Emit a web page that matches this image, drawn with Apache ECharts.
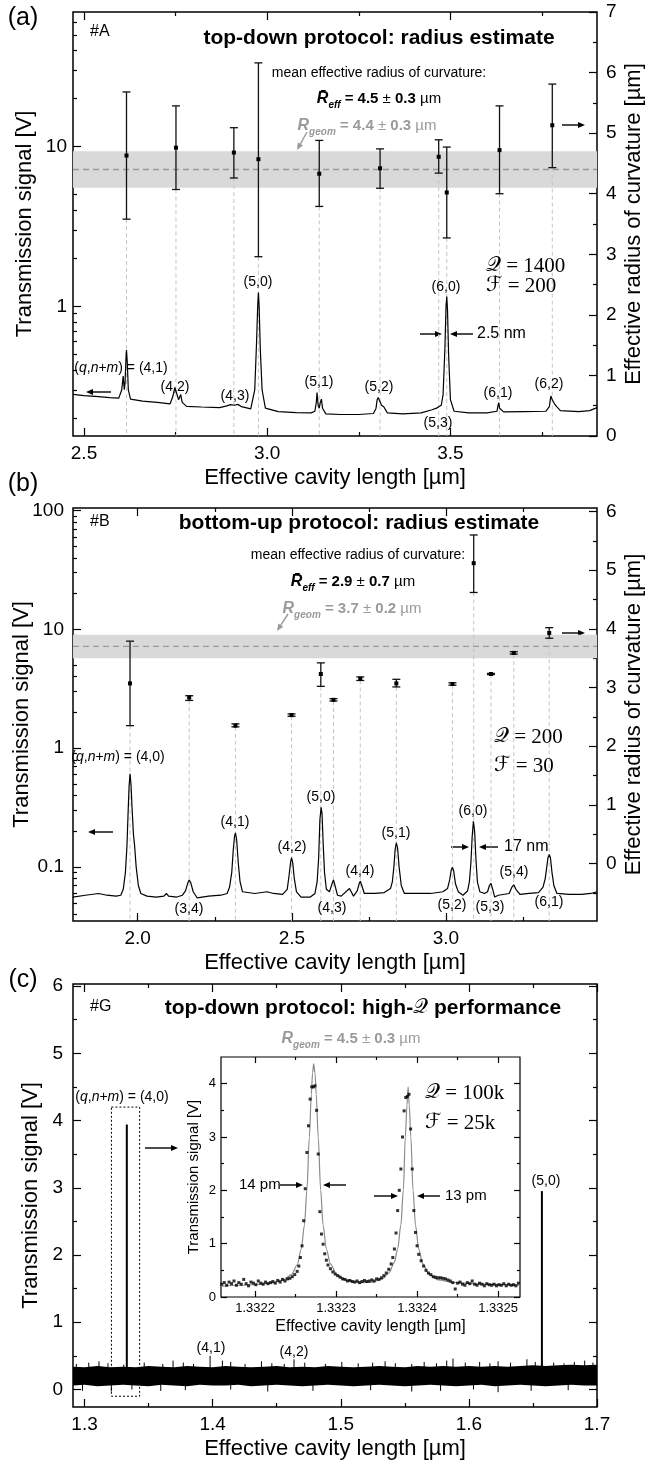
<!DOCTYPE html>
<html>
<head>
<meta charset="utf-8">
<script src="https://cdn.jsdelivr.net/npm/echarts@6/dist/echarts.min.js"></script>
<style>
html, body { margin: 0; padding: 0; background: #fff; }
#chart { width: 646px; height: 1468px; }
</style>
</head>
<body>
<div id="chart"></div>
<script>
var NARROW = "'Liberation Sans Narrow','Arial Narrow','Liberation Sans',Arial,sans-serif";
var SERIF = "'Liberation Serif','DejaVu Serif',serif";
var MATH = "'DejaVu Serif','DejaVu Sans','Liberation Serif',serif";
var GRAY = '#9a9a9a';

/* ---------- (a) top-down protocol ---------- */
var specA = [
    [2.47, 0.281], [2.50, 0.276], [2.54, 0.272], [2.57, 0.268], [2.595, 0.266],
    [2.603, 0.30], [2.607, 0.366], [2.610, 0.30], [2.612, 0.33], [2.615, 0.50], [2.616, 0.532], [2.618, 0.45], [2.621, 0.30], [2.627, 0.262],
    [2.66, 0.255], [2.70, 0.25], [2.735, 0.245],
    [2.742, 0.27], [2.748, 0.31], [2.752, 0.29], [2.758, 0.26], [2.764, 0.28], [2.768, 0.25], [2.78, 0.236],
    [2.82, 0.234], [2.87, 0.232],
    [2.89, 0.238], [2.90, 0.242], [2.91, 0.24], [2.92, 0.243], [2.93, 0.235], [2.955, 0.228],
    [2.966, 0.30], [2.971, 0.60], [2.974, 1.0], [2.976, 1.22], [2.978, 1.0], [2.981, 0.55], [2.986, 0.30], [2.995, 0.23],
    [3.03, 0.219], [3.08, 0.216], [3.12, 0.215],
    [3.130, 0.22], [3.134, 0.25], [3.136, 0.288], [3.139, 0.24], [3.142, 0.23], [3.145, 0.25], [3.148, 0.262], [3.151, 0.23], [3.16, 0.212],
    [3.20, 0.21], [3.25, 0.21], [3.29, 0.213],
    [3.297, 0.23], [3.300, 0.26], [3.303, 0.268], [3.307, 0.255], [3.312, 0.24], [3.318, 0.235], [3.328, 0.215],
    [3.37, 0.212], [3.42, 0.215], [3.45, 0.225],
    [3.462, 0.23], [3.468, 0.235], [3.475, 0.24],
    [3.480, 0.28], [3.485, 0.55], [3.488, 1.0], [3.490, 1.15], [3.492, 0.95], [3.495, 0.5], [3.50, 0.26], [3.51, 0.22],
    [3.55, 0.215], [3.60, 0.215],
    [3.627, 0.22], [3.630, 0.24], [3.632, 0.249], [3.634, 0.23], [3.636, 0.235], [3.638, 0.225], [3.645, 0.218],
    [3.70, 0.219], [3.76, 0.22],
    [3.770, 0.235], [3.774, 0.274], [3.778, 0.26], [3.784, 0.245], [3.79, 0.235], [3.80, 0.222],
    [3.85, 0.219], [3.88, 0.222], [3.90, 0.232]
];
// [cavity length, radius, lower, upper]
var errA = [
    [2.616, 4.63, 3.58, 5.68], [2.751, 4.76, 4.07, 5.45], [2.909, 4.68, 4.26, 5.09],
    [2.976, 4.57, 2.96, 6.16], [3.142, 4.33, 3.79, 4.88], [3.308, 4.42, 4.09, 4.74],
    [3.468, 4.61, 4.34, 4.89], [3.490, 4.02, 3.27, 4.77], [3.634, 4.72, 4.00, 5.45],
    [3.778, 5.13, 4.43, 5.81]
];
var bandA = [4.1, 4.7];
var meanA = 4.4;
var xRangeA = [2.47, 3.90];
var xTicksA = [2.5, 3.0, 3.5];
var xLabelsA = ['2.5', '3.0', '3.5'];
var xMinorA = [2.75, 3.25, 3.75];
var yRangeA = [0.154, 69.7];
var yTicksA = [1, 10];
var yLabelsA = ['1', '10'];
var yMinorA = [0.2, 0.3, 0.4, 0.5, 0.6, 0.7, 0.8, 0.9, 2, 3, 4, 5, 6, 7, 8, 9, 20, 30, 40, 50, 60];
var rRangeA = [0, 7];
var rTicksA = [0, 1, 2, 3, 4, 5, 6, 7];
var rLabelsA = ['0', '1', '2', '3', '4', '5', '6', '7'];
var rMinorA = [0.5, 1.5, 2.5, 3.5, 4.5, 5.5, 6.5];

/* ---------- (b) bottom-up protocol ---------- */
var specB = [
    [1.79, 0.056], [1.83, 0.058], [1.873, 0.060], [1.90, 0.058], [1.93, 0.057], [1.945, 0.058],
    [1.953, 0.065], [1.960, 0.09], [1.965, 0.15], [1.969, 0.30], [1.972, 0.48], [1.975, 0.61], [1.978, 0.50], [1.982, 0.30], [1.986, 0.19], [1.990, 0.15], [1.995, 0.10], [2.002, 0.07], [2.010, 0.06],
    [2.03, 0.057], [2.06, 0.056], [2.085, 0.057], [2.093, 0.06], [2.10, 0.057], [2.127, 0.056], [2.145, 0.058],
    [2.155, 0.063], [2.162, 0.073], [2.167, 0.078], [2.172, 0.074], [2.18, 0.062], [2.193, 0.055],
    [2.23, 0.057], [2.27, 0.058], [2.29, 0.06],
    [2.298, 0.068], [2.305, 0.09], [2.310, 0.14], [2.314, 0.18], [2.317, 0.194], [2.321, 0.17], [2.326, 0.11], [2.332, 0.075], [2.34, 0.062],
    [2.38, 0.06], [2.42, 0.062], [2.44, 0.06], [2.47, 0.059],
    [2.485, 0.065], [2.491, 0.085], [2.496, 0.11], [2.499, 0.12], [2.503, 0.108], [2.508, 0.08], [2.515, 0.062],
    [2.53, 0.056], [2.56, 0.056], [2.575, 0.06],
    [2.582, 0.075], [2.587, 0.12], [2.591, 0.25], [2.595, 0.318], [2.598, 0.28], [2.602, 0.15], [2.606, 0.09], [2.612, 0.065],
    [2.622, 0.062], [2.630, 0.072], [2.635, 0.078], [2.640, 0.07], [2.648, 0.058],
    [2.66, 0.057], [2.687, 0.066], [2.70, 0.057],
    [2.712, 0.063], [2.718, 0.072], [2.722, 0.076], [2.727, 0.07], [2.735, 0.06],
    [2.77, 0.06], [2.80, 0.061], [2.82, 0.066],
    [2.826, 0.075], [2.831, 0.10], [2.835, 0.14], [2.839, 0.16], [2.843, 0.145], [2.848, 0.10], [2.855, 0.07], [2.865, 0.06],
    [2.90, 0.06], [2.95, 0.06], [2.99, 0.062], [3.005, 0.066],
    [3.012, 0.078], [3.017, 0.094], [3.021, 0.10], [3.025, 0.093], [3.031, 0.072], [3.04, 0.062], [3.055, 0.058], [3.07, 0.063],
    [3.076, 0.075], [3.081, 0.11], [3.085, 0.18], [3.089, 0.243], [3.093, 0.20], [3.097, 0.12], [3.102, 0.075], [3.11, 0.062], [3.125, 0.06],
    [3.135, 0.062], [3.141, 0.07], [3.146, 0.073], [3.151, 0.066], [3.158, 0.056], [3.17, 0.058],
    [3.205, 0.06], [3.214, 0.068], [3.22, 0.071], [3.227, 0.065], [3.24, 0.059],
    [3.27, 0.06], [3.30, 0.061], [3.315, 0.068],
    [3.322, 0.08], [3.327, 0.10], [3.331, 0.12], [3.335, 0.128], [3.339, 0.12], [3.344, 0.09], [3.35, 0.07], [3.36, 0.06],
    [3.40, 0.059], [3.44, 0.059], [3.47, 0.06], [3.49, 0.062]
];
var errB = [
    [1.975, 3.07, 2.35, 3.79], [2.167, 2.83, 2.78, 2.86], [2.317, 2.35, 2.33, 2.38],
    [2.499, 2.53, 2.51, 2.55], [2.594, 3.23, 3.02, 3.42], [2.635, 2.79, 2.77, 2.81],
    [2.722, 3.15, 3.12, 3.18], [2.839, 3.07, 3.01, 3.14], [3.021, 3.06, 3.04, 3.08],
    [3.090, 5.12, 4.62, 5.60], [3.146, 3.23, 3.22, 3.24], [3.220, 3.59, 3.57, 3.61],
    [3.335, 3.93, 3.84, 4.02]
];
var bandB = [3.5, 3.9];
var meanB = 3.7;
var xRangeB = [1.79, 3.49];
var xTicksB = [2.0, 2.5, 3.0];
var xLabelsB = ['2.0', '2.5', '3.0'];
var xMinorB = [2.25, 2.75, 3.25];
var yRangeB = [0.0352, 105];
var yTicksB = [0.1, 1, 10, 100];
var yLabelsB = ['0.1', '1', '10', '100'];
var yMinorB = [0.04, 0.05, 0.06, 0.07, 0.08, 0.09, 0.2, 0.3, 0.4, 0.5, 0.6, 0.7, 0.8, 0.9,
    2, 3, 4, 5, 6, 7, 8, 9, 20, 30, 40, 50, 60, 70, 80, 90];
var rRangeB = [-0.98, 6.06];
var rTicksB = [0, 1, 2, 3, 4, 5, 6];
var rLabelsB = ['0', '1', '2', '3', '4', '5', '6'];
var rMinorB = [-0.5, 0.5, 1.5, 2.5, 3.5, 4.5, 5.5];

/* ---------- (c) high-Q performance ---------- */
var noiseTopC = [
    [1.291, 0.34], [1.30, 0.33], [1.31, 0.35], [1.32, 0.33], [1.33, 0.34], [1.34, 0.33], [1.35, 0.35],
    [1.36, 0.34], [1.37, 0.33], [1.38, 0.35], [1.39, 0.34], [1.40, 0.33], [1.41, 0.35], [1.42, 0.34],
    [1.43, 0.33], [1.44, 0.34], [1.45, 0.35], [1.46, 0.33], [1.47, 0.34], [1.48, 0.33], [1.49, 0.35],
    [1.50, 0.34], [1.51, 0.33], [1.52, 0.34], [1.53, 0.35], [1.54, 0.34], [1.55, 0.33], [1.56, 0.35],
    [1.57, 0.34], [1.58, 0.35], [1.59, 0.34], [1.60, 0.35], [1.61, 0.34], [1.62, 0.35], [1.63, 0.34],
    [1.64, 0.35], [1.65, 0.36], [1.66, 0.35], [1.67, 0.36], [1.68, 0.37], [1.69, 0.36], [1.70, 0.37]
];
var noiseBotC = [
    [1.291, 0.06], [1.30, 0.07], [1.31, 0.05], [1.32, 0.06], [1.33, 0.07], [1.34, 0.06], [1.35, 0.05],
    [1.36, 0.07], [1.37, 0.06], [1.38, 0.05], [1.39, 0.07], [1.40, 0.06], [1.41, 0.06], [1.42, 0.07],
    [1.43, 0.05], [1.44, 0.06], [1.45, 0.07], [1.46, 0.06], [1.47, 0.05], [1.48, 0.06], [1.49, 0.07],
    [1.50, 0.06], [1.51, 0.05], [1.52, 0.06], [1.53, 0.07], [1.54, 0.06], [1.55, 0.05], [1.56, 0.06],
    [1.57, 0.07], [1.58, 0.06], [1.59, 0.05], [1.60, 0.06], [1.61, 0.07], [1.62, 0.05], [1.63, 0.06],
    [1.64, 0.07], [1.65, 0.06], [1.66, 0.05], [1.67, 0.06], [1.68, 0.07], [1.69, 0.06], [1.70, 0.06]
];
var spikesUpC = [
    [1.2936, 0.38], [1.3033, 0.40], [1.3113, 0.42], [1.3183, 0.39], [1.3306, 0.37], [1.3466, 0.40],
    [1.3611, 0.38], [1.3691, 0.43], [1.3771, 0.40], [1.3851, 0.38], [1.3980, 0.50], [1.4076, 0.43],
    [1.4141, 0.41], [1.4253, 0.38], [1.4381, 0.42], [1.4462, 0.39], [1.4559, 0.38], [1.4635, 0.45],
    [1.4719, 0.40], [1.4880, 0.38], [1.5008, 0.41], [1.5136, 0.39], [1.5249, 0.40], [1.5346, 0.42],
    [1.5426, 0.39], [1.5554, 0.38], [1.5651, 0.41], [1.5747, 0.39], [1.5827, 0.43], [1.5876, 0.46],
    [1.5972, 0.40], [1.6084, 0.41], [1.6164, 0.39], [1.6228, 0.42], [1.6325, 0.40], [1.6453, 0.45],
    [1.6518, 0.41], [1.6662, 0.40], [1.6743, 0.39], [1.6823, 0.41], [1.6904, 0.43], [1.6968, 0.40]
];
var spikesDownC = [
    [1.2984, -0.02], [1.3209, -0.03], [1.3370, 0.0], [1.3595, -0.02], [1.3787, -0.01], [1.4141, 0.0],
    [1.4430, -0.03], [1.4783, -0.02], [1.5233, -0.01], [1.5554, -0.03], [1.5779, -0.02], [1.6036, 0.0],
    [1.6228, -0.04], [1.6486, -0.02], [1.6775, -0.01]
];
var peaksC = [[1.333, 3.94], [1.657, 2.95]];
var boxC = [1.321, -0.1, 1.343, 4.2];
var noiseMidC = 0.2;
var xRangeC = [1.291, 1.70];
var xTicksC = [1.3, 1.4, 1.5, 1.6, 1.7];
var xLabelsC = ['1.3', '1.4', '1.5', '1.6', '1.7'];
var xMinorC = [1.35, 1.45, 1.55, 1.65];
var yRangeC = [-0.26, 6.03];
var yTicksC = [0, 1, 2, 3, 4, 5, 6];
var yLabelsC = ['0', '1', '2', '3', '4', '5', '6'];
var yMinorC = [0.5, 1.5, 2.5, 3.5, 4.5, 5.5];

/* ---------- (c) inset ---------- */
var dotsI = [
    [1.332159, 0.24], [1.332162, 0.27], [1.332165, 0.22], [1.332168, 0.28], [1.332171, 0.25], [1.332174, 0.30],
    [1.332177, 0.22], [1.332180, 0.27], [1.332183, 0.24], [1.332186, 0.33], [1.332189, 0.25], [1.332192, 0.21],
    [1.332195, 0.28], [1.332198, 0.26], [1.332201, 0.23], [1.332204, 0.30], [1.332207, 0.26], [1.332210, 0.24],
    [1.332213, 0.28], [1.332216, 0.25], [1.332219, 0.27], [1.332222, 0.29], [1.332225, 0.26], [1.332228, 0.31],
    [1.332231, 0.28], [1.332234, 0.33], [1.332237, 0.30], [1.332240, 0.34], [1.332243, 0.35], [1.332246, 0.38],
    [1.332249, 0.42], [1.332252, 0.48], [1.332254, 0.58], [1.332256, 0.74], [1.332258, 0.96], [1.332260, 1.43],
    [1.332262, 2.03], [1.332264, 2.71], [1.332266, 3.21], [1.332268, 3.71], [1.332270, 3.94], [1.332272, 3.94],
    [1.332274, 3.96], [1.332276, 3.50], [1.332278, 2.68], [1.332280, 1.60], [1.332282, 1.18], [1.332284, 0.99],
    [1.332286, 0.81], [1.332288, 0.69], [1.332290, 0.60], [1.332293, 0.53], [1.332296, 0.47], [1.332299, 0.43],
    [1.332302, 0.40], [1.332305, 0.37], [1.332308, 0.34], [1.332311, 0.33], [1.332314, 0.30], [1.332317, 0.31],
    [1.332320, 0.29], [1.332323, 0.28], [1.332326, 0.30], [1.332329, 0.27], [1.332332, 0.29], [1.332335, 0.31],
    [1.332338, 0.29], [1.332341, 0.30], [1.332344, 0.32], [1.332347, 0.30], [1.332350, 0.34], [1.332353, 0.33],
    [1.332356, 0.36], [1.332359, 0.40], [1.332362, 0.45], [1.332365, 0.52], [1.332368, 0.62], [1.332370, 0.74],
    [1.332372, 0.90], [1.332374, 1.20], [1.332376, 1.62], [1.332378, 2.00], [1.332380, 2.40], [1.332382, 3.00],
    [1.332384, 3.49], [1.332386, 3.74], [1.332388, 3.76], [1.332390, 3.80], [1.332392, 3.15], [1.332394, 2.40],
    [1.332396, 1.62], [1.332398, 1.21], [1.332400, 0.96], [1.332402, 0.80], [1.332405, 0.68], [1.332408, 0.58],
    [1.332411, 0.50], [1.332414, 0.45], [1.332417, 0.42], [1.332420, 0.38], [1.332423, 0.37], [1.332426, 0.36],
    [1.332429, 0.36], [1.332432, 0.35], [1.332435, 0.34], [1.332438, 0.32], [1.332441, 0.30], [1.332444, 0.27],
    [1.332447, 0.15], [1.332450, 0.26], [1.332453, 0.28], [1.332456, 0.24], [1.332459, 0.22], [1.332462, 0.27],
    [1.332465, 0.25], [1.332468, 0.30], [1.332471, 0.24], [1.332474, 0.22], [1.332477, 0.26], [1.332480, 0.24],
    [1.332483, 0.21], [1.332486, 0.25], [1.332489, 0.23], [1.332492, 0.22], [1.332495, 0.24], [1.332498, 0.21],
    [1.332501, 0.23], [1.332504, 0.22], [1.332507, 0.25], [1.332510, 0.21], [1.332513, 0.24], [1.332516, 0.22],
    [1.332519, 0.23], [1.332522, 0.21], [1.332525, 0.26]
];
var fitI = [
    [1.332158, 0.20], [1.332180, 0.22], [1.332200, 0.23], [1.332220, 0.26], [1.332235, 0.32], [1.332245, 0.42],
    [1.332252, 0.60], [1.332257, 0.90], [1.332261, 1.35], [1.332264, 2.00], [1.332267, 3.00], [1.3322695, 3.80],
    [1.332271, 4.20], [1.3322724, 4.37], [1.332274, 4.20], [1.3322755, 3.80], [1.332278, 3.00], [1.332281, 2.00],
    [1.332284, 1.35], [1.332288, 0.90], [1.332293, 0.62], [1.332301, 0.42], [1.332312, 0.32], [1.332328, 0.27],
    [1.332345, 0.28], [1.332357, 0.34], [1.332365, 0.45], [1.332372, 0.65], [1.332376, 0.90], [1.332380, 1.35],
    [1.332383, 2.00], [1.3323855, 3.00], [1.3323875, 3.60], [1.3323889, 3.94], [1.3323903, 3.60], [1.3323923, 3.00],
    [1.332395, 2.00], [1.332398, 1.35], [1.332402, 0.90], [1.332407, 0.62], [1.332415, 0.42], [1.332426, 0.32],
    [1.332445, 0.27], [1.332480, 0.24], [1.332527, 0.22]
];
var xRangeI = [1.332158, 1.332527];
var xTicksI = [1.3322, 1.3323, 1.3324, 1.3325];
var xLabelsI = ['1.3322', '1.3323', '1.3324', '1.3325'];
var xMinorI = [1.33225, 1.33235, 1.33245];
var yRangeI = [0, 4.5];
var yTicksI = [0, 1, 2, 3, 4];
var yLabelsI = ['0', '1', '2', '3', '4'];
var yMinorI = [0.5, 1.5, 2.5, 3.5];

/* ---------- axes ---------- */
var xAxes = [];
var yAxes = [];

function labelFmt(values, labels) {
    return function (v) {
        for (var i = 0; i < values.length; i++) {
            if (Math.abs(values[i] - v) <= 1e-9 * Math.max(1, Math.abs(v))) return labels[i];
        }
        return '';
    };
}

function mk(grid, pos, type, range, tickVals, len, lab, nm) {
    var a = {
        gridIndex: grid, type: type, position: pos, min: range[0], max: range[1],
        axisLine: {show: false, onZero: false},
        splitLine: {show: false},
        axisTick: {show: true, inside: true, length: len, customValues: tickVals, lineStyle: {color: '#000', width: 1.2}},
        axisLabel: {show: false}
    };
    if (type === 'log') a.logBase = 10;
    if (lab) {
        a.axisLabel = {
            show: true, customValues: lab.values, formatter: labelFmt(lab.values, lab.labels),
            color: '#000', fontFamily: NARROW, fontSize: lab.size, margin: lab.margin
        };
    }
    if (nm && nm.text) {
        a.name = nm.text;
        a.nameLocation = 'middle';
        a.nameGap = nm.gap;
        a.nameRotate = nm.rotate;
        a.nameMoveOverlap = false;
        a.nameTextStyle = {color: '#000', fontFamily: NARROW, fontSize: nm.size};
    }
    return a;
}

/**
 * 四边框刻度：下(标签) / 上 / 左(标签) / 右
 */
function addFrame(grid, f) {
    var tl = f.tl, ts = f.ts;
    var ix = xAxes.length;
    xAxes.push(mk(grid, 'bottom', 'value', f.x.range, f.x.ticks, tl,
        {values: f.x.ticks, labels: f.x.labels, size: f.fs, margin: f.xm},
        {text: f.x.name, gap: f.x.gap, size: f.ns, rotate: 0}));
    xAxes.push(mk(grid, 'bottom', 'value', f.x.range, f.x.minor, ts));
    xAxes.push(mk(grid, 'top', 'value', f.x.range, f.x.ticks, tl));
    xAxes.push(mk(grid, 'top', 'value', f.x.range, f.x.minor, ts));
    var il = yAxes.length;
    yAxes.push(mk(grid, 'left', f.l.type, f.l.range, f.l.ticks, tl,
        {values: f.l.ticks, labels: f.l.labels, size: f.fs, margin: f.ym},
        {text: f.l.name, gap: f.l.gap, size: f.nsy || f.ns, rotate: 90}));
    yAxes.push(mk(grid, 'left', f.l.type, f.l.range, f.l.minor, ts));
    var r = f.r || f.l;
    var ir = yAxes.length;
    yAxes.push(mk(grid, 'right', r.type, r.range, r.ticks, tl,
        f.r ? {values: r.ticks, labels: r.labels, size: f.fs, margin: f.rm} : null,
        f.r ? {text: r.name, gap: r.gap, size: f.ns, rotate: 90} : null));
    yAxes.push(mk(grid, 'right', r.type, r.range, r.minor, ts));
    return {x: ix, l: il, r: ir};
}

var XNAME = 'Effective cavity length [µm]';
var YNAME = 'Transmission signal [V]';
var RNAME = 'Effective radius of curvature [µm]';

var A = addFrame(0, {
    tl: 8, ts: 4, fs: 19, ns: 22, xm: 8, ym: 6, rm: 9,
    x: {range: xRangeA, ticks: xTicksA, labels: xLabelsA, minor: xMinorA, name: XNAME, gap: 31},
    l: {type: 'log', range: yRangeA, ticks: yTicksA, labels: yLabelsA, minor: yMinorA, name: YNAME, gap: 37},
    r: {type: 'value', range: rRangeA, ticks: rTicksA, labels: rLabelsA, minor: rMinorA, name: RNAME, gap: 26}
});
var B = addFrame(1, {
    tl: 8, ts: 4, fs: 19, ns: 22, xm: 8, ym: 9, rm: 9,
    x: {range: xRangeB, ticks: xTicksB, labels: xLabelsB, minor: xMinorB, name: XNAME, gap: 31},
    l: {type: 'log', range: yRangeB, ticks: yTicksB, labels: yLabelsB, minor: yMinorB, name: YNAME, gap: 40},
    r: {type: 'value', range: rRangeB, ticks: rTicksB, labels: rLabelsB, minor: rMinorB, name: RNAME, gap: 26}
});
var C = addFrame(2, {
    tl: 8, ts: 4, fs: 19, ns: 22, xm: 8, ym: 10,
    x: {range: xRangeC, ticks: xTicksC, labels: xLabelsC, minor: xMinorC, name: XNAME, gap: 31},
    l: {type: 'value', range: yRangeC, ticks: yTicksC, labels: yLabelsC, minor: yMinorC, name: YNAME, gap: 31}
});
var I = addFrame(3, {
    tl: 6, ts: 3, fs: 13, ns: 16, nsy: 15, xm: 5, ym: 5,
    x: {range: xRangeI, ticks: xTicksI, labels: xLabelsI, minor: xMinorI, name: XNAME, gap: 22},
    l: {type: 'value', range: yRangeI, ticks: yTicksI, labels: yLabelsI, minor: yMinorI, name: YNAME, gap: 20}
});

/* ---------- renderers ---------- */
function renderErr(params, api) {
    var x = api.value(0);
    var c = api.coord([x, api.value(1)]);
    var lo = api.coord([x, api.value(2)]);
    var hi = api.coord([x, api.value(3)]);
    var bottom = params.coordSys.y + params.coordSys.height;
    var w = 4;
    var ink = {stroke: '#111', lineWidth: 1.3};
    return {
        type: 'group',
        children: [
            {type: 'line', shape: {x1: lo[0], y1: lo[1], x2: lo[0], y2: bottom}, style: {stroke: '#c4c4c4', lineWidth: 1, lineDash: [4, 3]}},
            {type: 'line', shape: {x1: hi[0], y1: hi[1], x2: lo[0], y2: lo[1]}, style: ink},
            {type: 'line', shape: {x1: hi[0] - w, y1: hi[1], x2: hi[0] + w, y2: hi[1]}, style: ink},
            {type: 'line', shape: {x1: lo[0] - w, y1: lo[1], x2: lo[0] + w, y2: lo[1]}, style: ink},
            {type: 'rect', shape: {x: c[0] - 2, y: c[1] - 2, width: 4, height: 4}, style: {fill: '#000'}}
        ]
    };
}

function renderSpike(base, width) {
    return function (params, api) {
        var a = api.coord([api.value(0), base]);
        var b = api.coord([api.value(0), api.value(1)]);
        return {type: 'line', shape: {x1: a[0], y1: a[1], x2: b[0], y2: b[1]}, style: {stroke: '#000', lineWidth: width}};
    };
}

function bandSeries(ax, xr, band, mean) {
    return [{
        type: 'line', xAxisIndex: ax.x, yAxisIndex: ax.r, silent: true, z: 2,
        data: [[xr[0], mean], [xr[1], mean]], symbol: 'none',
        lineStyle: {color: GRAY, width: 1.3, type: [6, 4]},
        markArea: {silent: true, itemStyle: {color: '#d9d9d9'}, data: [[{yAxis: band[0]}, {yAxis: band[1]}]]}
    }];
}

var series = [].concat(
    bandSeries(A, xRangeA, bandA, meanA),
    [
        {type: 'custom', xAxisIndex: A.x, yAxisIndex: A.r, data: errA, renderItem: renderErr, z: 3, silent: true},
        {type: 'line', xAxisIndex: A.x, yAxisIndex: A.l, data: specA, symbol: 'none', z: 4, silent: true,
            lineStyle: {color: '#000', width: 1.2}}
    ],
    bandSeries(B, xRangeB, bandB, meanB),
    [
        {type: 'custom', xAxisIndex: B.x, yAxisIndex: B.r, data: errB, renderItem: renderErr, z: 3, silent: true},
        {type: 'line', xAxisIndex: B.x, yAxisIndex: B.l, data: specB, symbol: 'none', z: 4, silent: true,
            lineStyle: {color: '#000', width: 1.2}},
        // (c) noise floor
        {type: 'custom', xAxisIndex: C.x, yAxisIndex: C.l, data: [[1.5, noiseMidC]], z: 3, silent: true, clip: true,
            renderItem: function (params, api) {
                var pts = [];
                noiseTopC.forEach(function (p) { pts.push(api.coord(p)); });
                noiseBotC.slice().reverse().forEach(function (p) { pts.push(api.coord(p)); });
                return {type: 'polygon', shape: {points: pts}, style: {fill: '#000'}};
            }},
        {type: 'custom', xAxisIndex: C.x, yAxisIndex: C.l, data: spikesUpC, renderItem: renderSpike(noiseMidC, 1), z: 3, silent: true},
        {type: 'custom', xAxisIndex: C.x, yAxisIndex: C.l, data: spikesDownC, renderItem: renderSpike(noiseMidC, 1), z: 3, silent: true},
        {type: 'custom', xAxisIndex: C.x, yAxisIndex: C.l, data: peaksC, renderItem: renderSpike(noiseMidC, 2), z: 4, silent: true},
        {type: 'custom', xAxisIndex: C.x, yAxisIndex: C.l, data: [boxC], z: 4, silent: true,
            renderItem: function (params, api) {
                var p0 = api.coord([api.value(0), api.value(3)]);
                var p1 = api.coord([api.value(2), api.value(1)]);
                return {type: 'rect', shape: {x: p0[0], y: p0[1], width: p1[0] - p0[0], height: p1[1] - p0[1]},
                    style: {fill: 'none', stroke: '#000', lineWidth: 1, lineDash: [2, 2]}};
            }},
        // inset
        {type: 'line', xAxisIndex: I.x, yAxisIndex: I.l, data: fitI, symbol: 'none', smooth: 0.3, smoothMonotone: 'x',
            z: 6, silent: true, lineStyle: {color: '#8a8a8a', width: 1.2}},
        {type: 'scatter', xAxisIndex: I.x, yAxisIndex: I.l, data: dotsI, symbol: 'rect', symbolSize: 3,
            z: 7, silent: true, itemStyle: {color: '#000'}}
    ]
);

/* ---------- annotations ---------- */
function txt(x, y, text, size, o) {
    o = o || {};
    var st = {
        text: text, fill: o.fill || '#000', align: o.align || 'center', verticalAlign: 'middle',
        fontFamily: o.family || NARROW, fontSize: size, fontWeight: o.weight || 'normal'
    };
    if (o.rich) st.rich = o.rich;
    return {type: 'text', x: x, y: y, z: 100, silent: true, style: st};
}

function arrow(x1, y1, x2, y2, color) {
    var ang = Math.atan2(y2 - y1, x2 - x1), hl = 7, hw = 3;
    var bx = x2 - hl * Math.cos(ang), by = y2 - hl * Math.sin(ang);
    var px = -Math.sin(ang) * hw, py = Math.cos(ang) * hw;
    color = color || '#000';
    return {
        type: 'group', z: 100, silent: true,
        children: [
            {type: 'line', shape: {x1: x1, y1: y1, x2: bx, y2: by}, style: {stroke: color, lineWidth: 1.4}},
            {type: 'polygon', shape: {points: [[x2, y2], [bx + px, by + py], [bx - px, by - py]]}, style: {fill: color}}
        ]
    };
}

function richSet(color, size) {
    function st(o) {
        return Object.assign({color: color, fontFamily: NARROW, fontSize: size, lineHeight: 22}, o);
    }
    return {
        R: st({fontWeight: 'bold', fontStyle: 'italic', fontSize: size + 1}),
        s: st({fontWeight: 'bold', fontStyle: 'italic', fontSize: size - 5, lineHeight: 11, verticalAlign: 'bottom'}),
        b: st({fontWeight: 'bold'}),
        r: st({})
    };
}

function radiusText(x, y, sym, sub, val, err, color) {
    return txt(x, y, '{R|' + sym + '}{s|' + sub + '}{b| = ' + val + ' }{r|±}{b| ' + err + ' }{r|µm}', 15,
        {fill: color, rich: richSet(color, 15)});
}

var richQ = {
    n: {fontFamily: NARROW, fontSize: 14, color: '#000'},
    i: {fontFamily: NARROW, fontSize: 14, fontStyle: 'italic', color: '#000'}
};
function modeText(x, y, tail) {
    return txt(x, y, '{n|(}{i|q}{n|,}{i|n}{n|+}{i|m}{n|) = ' + tail + '}', 14, {rich: richQ});
}

function qfText(x, y, sym, rest, size) {
    return txt(x, y, '{q|' + sym + '}{n| = ' + rest + '}', size, {
        align: 'left',
        rich: {q: {fontFamily: MATH, fontSize: size, color: '#000'}, n: {fontFamily: SERIF, fontSize: size, color: '#000'}}
    });
}

var peakLabels = [
    // (a)
    ['(4,2)', 175, 387], ['(4,3)', 235, 396], ['(5,0)', 258, 282], ['(5,1)', 319, 382], ['(5,2)', 379, 387],
    ['(5,3)', 438, 423], ['(6,0)', 446, 287], ['(6,1)', 498, 393], ['(6,2)', 549, 384],
    // (b)
    ['(4,1)', 235, 822], ['(5,0)', 321, 797], ['(4,2)', 292, 847], ['(6,0)', 473, 811], ['(5,1)', 396, 833],
    ['(4,4)', 360, 871], ['(5,4)', 514, 872], ['(3,4)', 189, 909], ['(4,3)', 332, 908], ['(5,2)', 452, 905],
    ['(5,3)', 490, 907], ['(6,1)', 549, 902],
    // (c)
    ['(5,0)', 546, 1181], ['(4,1)', 211, 1348], ['(4,2)', 294, 1352]
];

var notes = [
    txt(23, 18, '(a)', 25), txt(23, 484, '(b)', 25), txt(23, 980, '(c)', 25),
    txt(90, 32, '#A', 16, {align: 'left'}),
    txt(90, 522, '#B', 16, {align: 'left'}),
    txt(90, 1007, '#G', 16, {align: 'left'}),
    txt(379, 38, 'top-down protocol: radius estimate', 21, {weight: 'bold'}),
    txt(359, 523, 'bottom-up protocol: radius estimate', 21, {weight: 'bold'}),
    txt(363, 1008, '{b|top-down protocol: high-}{q|𝒬}{b| performance}', 21, {
        rich: {
            b: {fontFamily: NARROW, fontSize: 21, fontWeight: 'bold', color: '#000'},
            q: {fontFamily: MATH, fontSize: 21, color: '#000'}
        }
    }),
    txt(379, 73, 'mean effective radius of curvature:', 14),
    txt(358, 555, 'mean effective radius of curvature:', 14),
    radiusText(379, 99, 'R\u0304', 'eff', '4.5', '0.3', '#000'),
    radiusText(367, 126, 'R', 'geom', '4.4', '0.3', GRAY),
    radiusText(353, 582, 'R\u0304', 'eff', '2.9', '0.7', '#000'),
    radiusText(352, 609, 'R', 'geom', '3.7', '0.2', GRAY),
    radiusText(351, 1039, 'R', 'geom', '4.5', '0.3', GRAY),
    arrow(307, 132, 297, 150, GRAY),
    arrow(288, 614, 277, 631, GRAY),
    qfText(486, 266, '𝒬', '1400', 21), qfText(486, 286, 'ℱ', '200', 21),
    qfText(494, 737, '𝒬', '200', 21), qfText(494, 766, 'ℱ', '30', 21),
    qfText(425, 1093, '𝒬', '100k', 21), qfText(425, 1123, 'ℱ', '25k', 21),
    modeText(121, 368, '(4,1)'),
    modeText(118, 757, '(4,0)'),
    modeText(122, 1097, '(4,0)'),
    arrow(111, 392, 86, 392), arrow(113, 832, 88, 832),
    arrow(562, 125, 585, 125), arrow(562, 633, 585, 633),
    arrow(420, 334, 442, 334), arrow(473, 334, 450, 334), txt(477, 334, '2.5 nm', 16, {align: 'left'}),
    arrow(451, 847, 469, 847), arrow(498, 847, 479, 847), txt(504, 847, '17 nm', 16, {align: 'left'}),
    arrow(145, 1148, 178, 1148),
    txt(239, 1185, '14 pm', 15, {align: 'left'}), arrow(280, 1185, 303, 1185), arrow(346, 1185, 323, 1185),
    arrow(374, 1196, 398, 1196), arrow(440, 1196, 417, 1196), txt(445, 1196, '13 pm', 15, {align: 'left'})
];
peakLabels.forEach(function (p) {
    notes.push(txt(p[1], p[2], p[0], 14));
});

/* ---------- chart ---------- */
var frame = {show: true, borderColor: '#000', borderWidth: 1.5, backgroundColor: 'transparent', containLabel: false, outerBoundsMode: 'none'};
var option = {
    animation: false,
    backgroundColor: '#fff',
    textStyle: {fontFamily: NARROW},
    grid: [
        Object.assign({left: 73, top: 12, width: 524, height: 424}, frame),
        Object.assign({left: 73, top: 508, width: 524, height: 413}, frame),
        Object.assign({left: 73, top: 984, width: 524, height: 423}, frame),
        Object.assign({}, frame, {left: 221, top: 1057, width: 299, height: 240, borderWidth: 1.2, backgroundColor: '#fff'})
    ],
    xAxis: xAxes,
    yAxis: yAxes,
    series: series,
    graphic: {elements: notes}
};

var chart = echarts.init(document.getElementById('chart'), null, {renderer: 'canvas'});
chart.setOption(option);
</script>
</body>
</html>
